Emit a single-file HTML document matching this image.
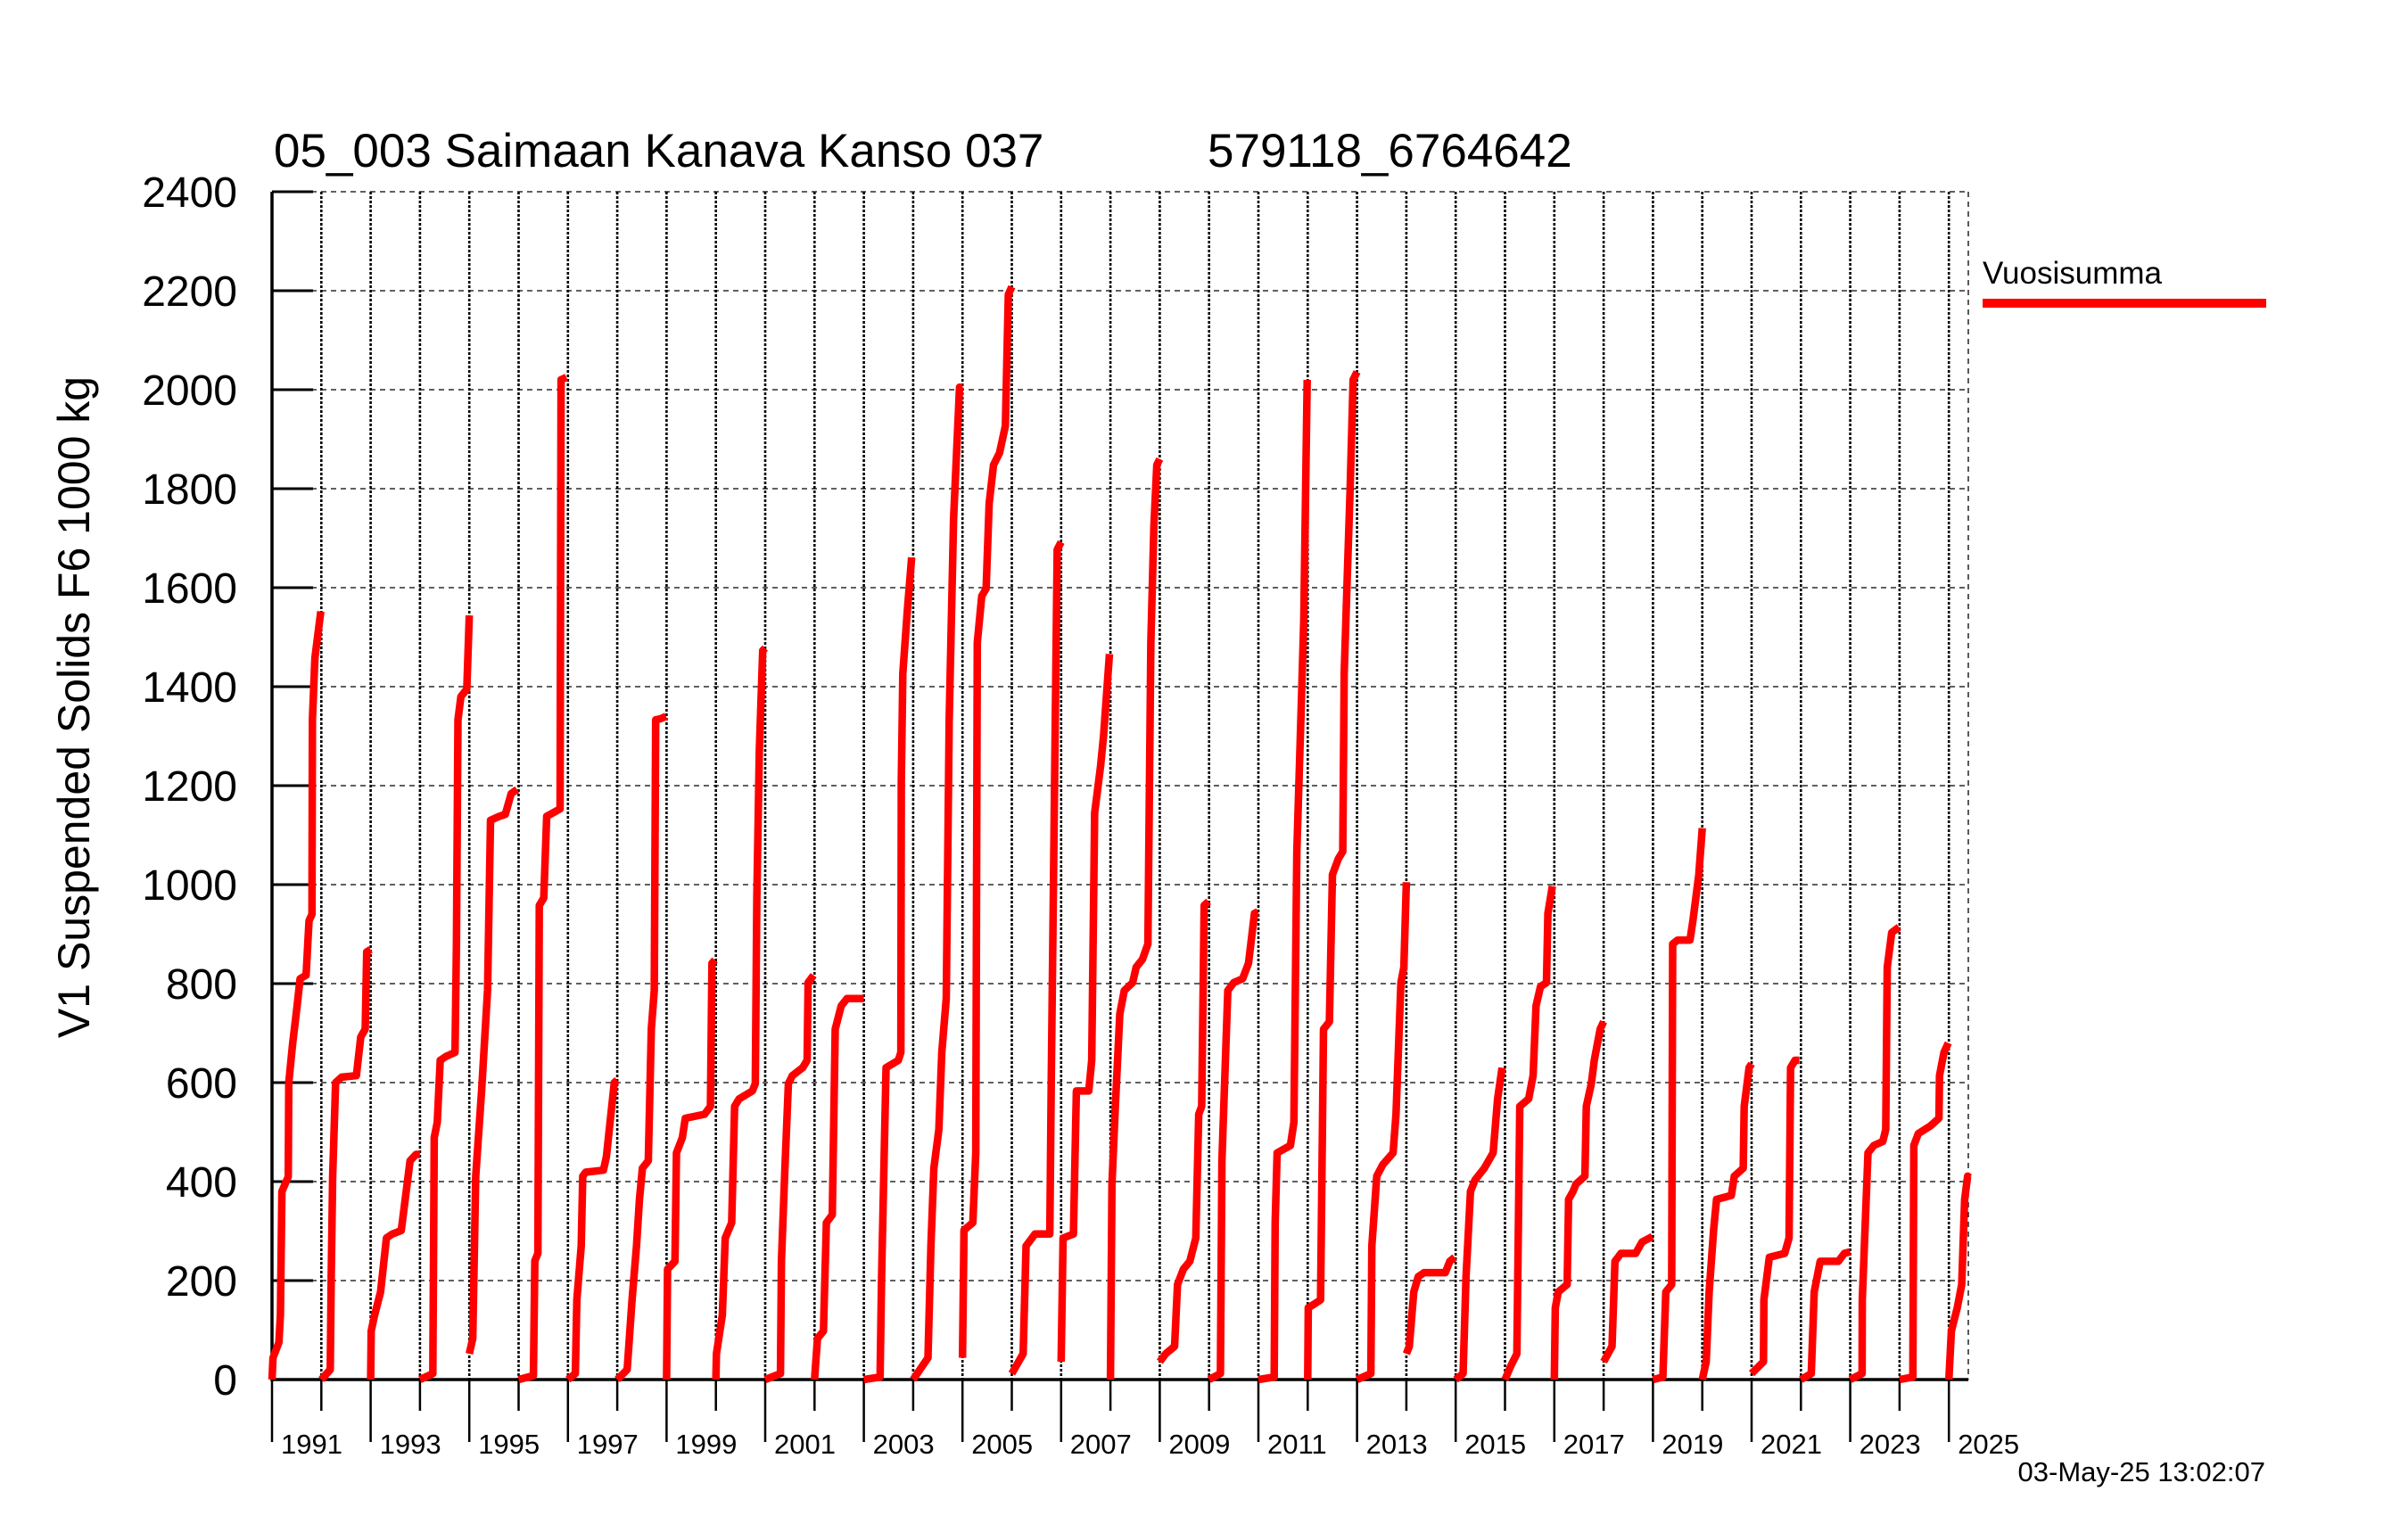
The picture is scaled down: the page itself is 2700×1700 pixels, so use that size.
<!DOCTYPE html>
<html><head><meta charset="utf-8"><style>
html,body{margin:0;padding:0;background:#fff;}
svg{display:block;font-family:"Liberation Sans",sans-serif;}
</style></head><body>
<svg id="chart" width="2700" height="1700" viewBox="0 0 2700 1700" xmlns="http://www.w3.org/2000/svg">
<rect x="0" y="0" width="2700" height="1700" fill="#fff"/>
<text x="307" y="187" font-size="53" fill="#000">05_003 Saimaan Kanava Kanso 037</text>
<text x="1354" y="187" font-size="53" fill="#000">579118_6764642</text>
<text transform="translate(100,793) rotate(-90)" text-anchor="middle" font-size="50" fill="#000">V1 Suspended Solids F6 1000 kg</text>
<g id="grid"></g>
<g id="axes"></g>
<g id="series"></g>
<text x="2223" y="318" font-size="35" fill="#000">Vuosisumma</text>
<rect x="2223" y="335" width="318" height="10" fill="#ff0000"/>
<text x="2540" y="1661" text-anchor="end" font-size="31" fill="#000">03-May-25 13:02:07</text>
</svg>
<script>
const years = [1990,1991,1992,1993,1994,1995,1996,1997,1998,1999,2000,2001,2002,2003,2004,2005,2006,2007,2008,2009,2010,2011,2012,2013,2014,2015,2016,2017,2018,2019,2020,2021,2022,2023,2024];
const yearFrac = [
[0,0.02,0.14,0.17,0.2,0.33,0.34,0.42,0.51,0.57,0.69,0.75,0.81,0.82,0.87,0.99],
[0,0.18,0.2,0.23,0.29,0.41,0.71,0.8,0.89,0.92,1.0],
[0,0.01,0.08,0.2,0.32,0.44,0.62,0.68,0.8,0.92,1.0],
[0,0.26,0.29,0.35,0.41,0.53,0.71,0.74,0.77,0.83,0.95,1.0],
[0,0.07,0.13,0.25,0.37,0.43,0.61,0.73,0.85,0.97],
[0,0.3,0.33,0.39,0.42,0.51,0.57,0.75,0.84,0.86,0.97],
[0,0.15,0.18,0.27,0.3,0.36,0.72,0.78,0.94,1.0],
[0,0.2,0.3,0.39,0.45,0.51,0.63,0.69,0.75,0.78,0.87,0.99],
[0,0.02,0.17,0.2,0.32,0.38,0.77,0.89,0.92,0.98],
[0,0.01,0.13,0.19,0.32,0.38,0.47,0.74,0.8,0.83,0.88,0.95,1.0],
[0,0.31,0.33,0.4,0.47,0.55,0.76,0.85,0.87,0.98],
[0,0.06,0.18,0.24,0.36,0.42,0.54,0.66,1.0],
[0,0.33,0.36,0.45,0.7,0.75,0.76,0.79,0.88,0.97],
[0,0.3,0.36,0.42,0.52,0.58,0.67,0.73,0.82,0.94,1.0],
[0,0.03,0.21,0.27,0.3,0.39,0.48,0.54,0.63,0.75,0.87,0.93,1.0],
[0,0.23,0.29,0.47,0.77,0.8,0.92,1.0],
[0,0.04,0.25,0.31,0.56,0.62,0.68,0.8,0.86,0.98],
[0,0.03,0.1,0.19,0.28,0.45,0.52,0.65,0.76,0.82,0.88,0.94,1.0],
[0,0.12,0.3,0.36,0.48,0.61,0.73,0.79,0.85,0.9,0.99],
[0,0.23,0.26,0.38,0.5,0.68,0.8,0.92,0.99],
[0,0.32,0.34,0.38,0.65,0.72,0.78,0.87,0.92,0.99],
[0,0.01,0.14,0.26,0.32,0.44,0.5,0.62,0.71,0.74,0.8,0.86,0.92,1.0],
[0,0.28,0.3,0.4,0.52,0.73,0.79,0.89,0.95,1.0],
[0,0.06,0.15,0.24,0.36,0.79,0.88,0.98],
[0,0.15,0.21,0.3,0.39,0.58,0.76,0.85,0.94],
[0,0.12,0.24,0.3,0.48,0.57,0.63,0.72,0.84,0.87,0.96],
[0,0.02,0.08,0.26,0.29,0.38,0.44,0.62,0.65,0.75,0.81,0.93,1.0],
[0,0.17,0.23,0.35,0.65,0.78,0.99],
[0,0.2,0.26,0.38,0.4,0.5,0.75,0.81,0.93,1.0],
[0,0.08,0.14,0.23,0.29,0.59,0.65,0.83,0.85,0.95,1.0],
[0,0.24,0.25,0.36,0.67,0.76,0.79,0.88,0.97],
[0,0.21,0.27,0.39,0.76,0.88,1.0],
[0,0.24,0.245,0.36,0.48,0.66,0.72,0.75,0.84,0.99],
[0,0.27,0.29,0.38,0.62,0.8,0.81,0.9,0.99],
[0,0.05,0.17,0.26,0.32,0.38,0.42]
];
const yearVals = [
[0,44,75,130,380,410,600,680,756,810,817,927,940,1333,1458,1552],
[0,20,210,410,600,611,614,692,708,864,869],
[0,98,130,177,286,294,301,348,442,455,455],
[0,12,489,520,645,653,661,880,1333,1380,1395,1544],
[52,83,411,583,787,1130,1138,1142,1184,1192],
[0,8,240,255,958,973,1138,1148,1153,2020,2025],
[0,12,161,270,411,419,423,450,600,605],
[0,20,161,270,364,427,442,708,786,1333,1335,1340],
[0,223,239,458,489,528,536,552,841,848],
[0,52,130,286,317,552,567,583,598,973,1270,1473,1478],
[0,12,240,427,598,614,630,645,802,817],
[0,83,98,317,333,708,755,770,770],
[0,5,208,630,645,661,1208,1427,1552,1661],
[0,44,270,427,505,661,770,1333,1739,2005,2005],
[44,302,317,458,1489,1583,1598,1770,1848,1872,1927,2192,2208],
[12,52,270,294,294,598,1677,1692],
[36,286,294,583,583,645,1145,1239,1301,1466],
[0,395,552,739,786,802,833,849,880,1489,1723,1848,1860],
[36,52,67,192,223,239,286,536,552,958,966],
[0,12,442,786,802,810,841,942,945],
[0,5,317,458,473,520,1067,1364,1536,2020],
[0,145,153,161,708,723,1020,1052,1067,1427,1614,1802,2020,2036],
[0,12,270,411,434,458,536,802,833,1005],
[52,67,177,208,216,216,239,247],
[0,12,208,380,403,427,458,567,630],
[0,28,52,552,567,614,755,794,802,942,997],
[0,145,177,192,364,380,395,411,552,598,645,708,723],
[36,67,239,255,255,278,289],
[0,5,177,192,880,888,888,927,1020,1114],
[0,36,177,302,364,372,411,427,552,630,638],
[12,36,161,247,255,286,630,645,645],
[0,12,177,239,239,255,258],
[0,12,161,458,473,481,505,833,903,914],
[0,5,473,497,512,528,614,661,680],
[0,98,145,192,364,411,408]
];
const yTicks = [0,200,400,600,800,1000,1200,1400,1600,1800,2000,2200,2400];
const xLabelYears = [1991,1993,1995,1997,1999,2001,2003,2005,2007,2009,2011,2013,2015,2017,2019,2021,2023,2025];

const NS = 'http://www.w3.org/2000/svg';
const L = 305, R = 2207, T = 215, B = 1547;
const X0 = 1990, PX_PER_YEAR = 55.3, YMAX = 2400;
function xScale(t){ return L + (t - X0) * PX_PER_YEAR; }
function yScale(v){ return B - v / YMAX * (B - T); }
function mk(tag, attrs, parent){
  const e = document.createElementNS(NS, tag);
  for (const k in attrs) e.setAttribute(k, attrs[k]);
  parent.appendChild(e);
  return e;
}
const grid = document.getElementById('grid');
const axes = document.getElementById('axes');
const series = document.getElementById('series');

// horizontal gridlines + y ticks + labels
yTicks.forEach(v => {
  const y = yScale(v);
  if (v > 0) {
    const g = mk('line', {x1:L, x2:R, y1:y, y2:y, stroke:'#000', 'stroke-width':1.3, 'stroke-dasharray':'6 5'}, grid);
    
    
  }
  const tk = mk('line', {x1:L, x2:L+46, y1:y, y2:y, stroke:'#000', 'stroke-width':3}, axes);
  
  
  const lb = mk('text', {x:266, y:y+17, 'text-anchor':'end', 'font-size':48, fill:'#000'}, axes);
  lb.textContent = v;
  
  
});
// right border dashed
const rb = mk('line', {x1:R, x2:R, y1:T, y2:B, stroke:'#000', 'stroke-width':1.3, 'stroke-dasharray':'6 5'}, grid);



// vertical gridlines + x ticks
years.forEach(yr => {
  const x = xScale(yr);
  if (yr > X0) {
    const g = mk('line', {x1:x, x2:x, y1:T, y2:B, stroke:'#000', 'stroke-width':2.6, 'stroke-dasharray':'3 2'}, grid);
    
    
  }
  const len = (yr % 2 === 0) ? 70 : 35;
  const tk = mk('line', {x1:x, x2:x, y1:B, y2:B+len, stroke:'#000', 'stroke-width':2.5}, axes);
  
  
});
xLabelYears.forEach(yr => {
  const lb = mk('text', {x:xScale(yr-1)+10, y:1630, 'font-size':31, fill:'#000'}, axes);
  lb.textContent = yr;
  
  
});
// axis lines
const ya = mk('line', {x1:L, x2:L, y1:T, y2:B+2, stroke:'#000', 'stroke-width':3.5}, axes);


const xa = mk('line', {x1:L, x2:R, y1:B, y2:B, stroke:'#000', 'stroke-width':3.5}, axes);



// series
years.forEach((yr, i) => {
  const fr = yearFrac[i], vals = yearVals[i];
  let d = '';
  fr.forEach((f, j) => {
    d += (j ? 'L' : 'M') + xScale(yr + f).toFixed(1) + ' ' + yScale(vals[j]).toFixed(1);
  });
  const p = mk('path', {d:d, fill:'none', stroke:'#ff0000', 'stroke-width':8.5, 'stroke-linejoin':'round', 'stroke-linecap':'butt'}, series);
  
  
});
</script>
</body></html>
